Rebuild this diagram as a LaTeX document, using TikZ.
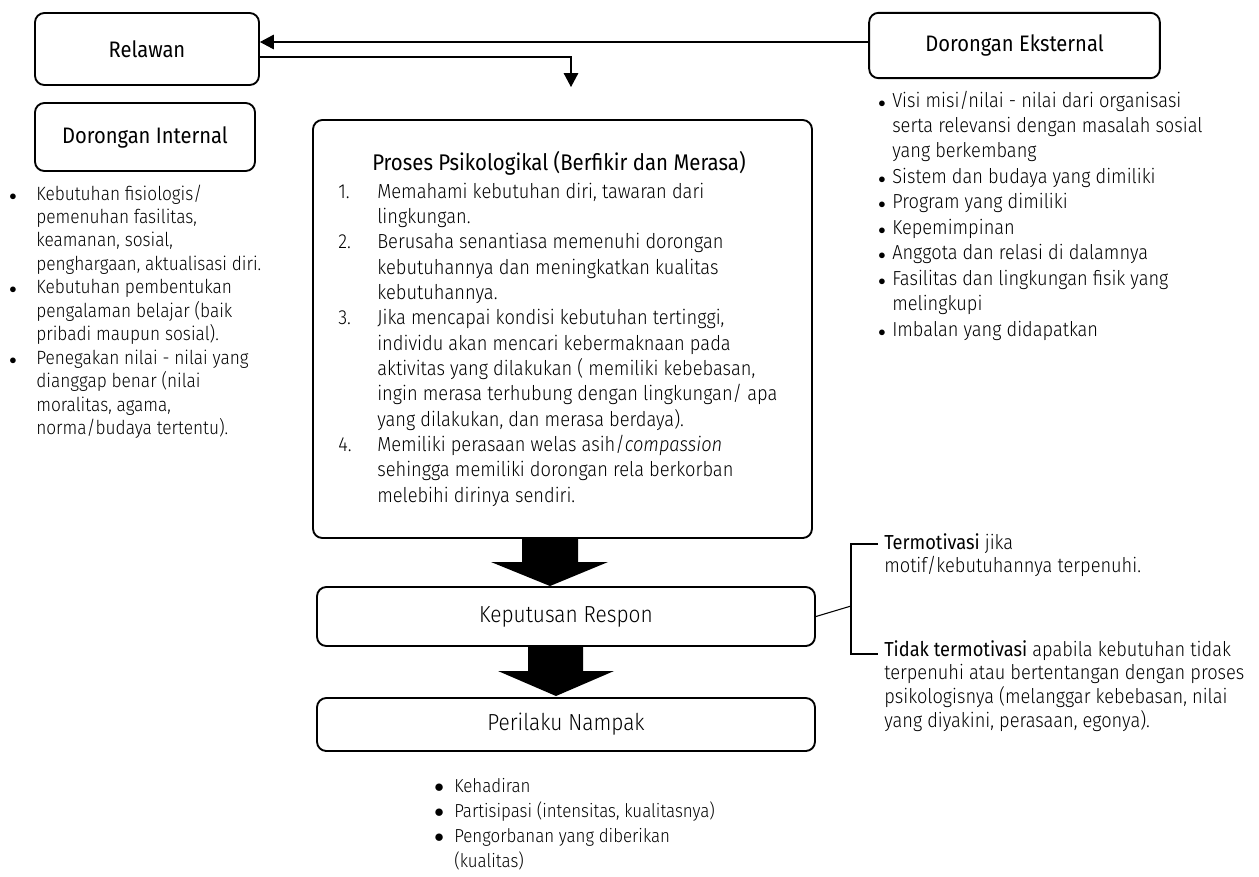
\documentclass[tikz,border=0pt]{standalone}
\usepackage{fontspec}
\setmainfont{Fira Sans Light}[FakeStretch=0.9,ItalicFont={Fira Sans Light Italic},ItalicFeatures={FakeStretch=0.9},BoldFont={Fira Sans},BoldFeatures={FakeStretch=0.9}]
\newfontfamily\regfont{Fira Sans}[FakeStretch=0.9]
\usetikzlibrary{arrows.meta,calc}
\newcommand{\hdrfont}{\regfont\fontsize{16.8}{18}\selectfont}
\newcommand{\ttlfont}{\regfont\fontsize{17}{19}\selectfont}
\newcommand{\bigfont}{\fontsize{17.4}{19}\selectfont}
\newcommand{\bodyfont}[2]{\fontsize{#1}{#2}\selectfont}
\newcommand{\sbul}{{\fontsize{11}{11}\selectfont$\bullet$}}
\newcommand{\lbul}{{\fontsize{14}{14}\selectfont$\bullet$}}
\tikzset{
  rbox/.style={draw, line width=1.4pt, rounded corners=7pt, inner sep=0pt},
  conn/.style={line width=0.8pt},
  tip/.style={-{Triangle[length=10.5pt,width=11pt]}},
  blk/.style={fill=black, draw=none},
  txt/.style={inner sep=0pt, anchor=base west, align=left},
}
\begin{document}
\begin{tikzpicture}[x=0.75pt,y=-0.75pt]
\useasboundingbox (0,0) rectangle (1259,876);
% boxes
\node[rbox, minimum width=168pt, minimum height=54pt, font=\hdrfont] (relawan) at (147,49) {Relawan};
\node[rbox, minimum width=165pt, minimum height=51pt, font=\hdrfont] (internal) at (145,137) {Dorongan Internal};
\node[rbox, minimum width=218pt, minimum height=49pt, font=\hdrfont] (eksternal) at (1014.5,45.5) {Dorongan Eksternal};
\node[rbox, minimum width=374.25pt, minimum height=313.5pt] (proses) at (562.5,329) {};
\node[rbox, minimum width=373.5pt, minimum height=44.25pt, font=\bigfont] (keputusan) at (566,616.5) {Keputusan Respon};
\node[rbox, minimum width=373.5pt, minimum height=39.75pt, font=\bigfont] (perilaku) at (566,724.5) {Perilaku Nampak};
% connectors
\coordinate (yA) at (0,42);
\coordinate (yB) at (0,57);
\coordinate (tipA) at (571,87);
\draw[conn,tip] (eksternal.west |- yA) -- (relawan.east |- yA);
\draw[conn,tip] (relawan.east |- yB) -| (tipA);
% block arrows
\fill[blk] (522,538) -- (578,538) -- (578,562) -- (608,562) -- (550,586) -- (491,562) -- (522,562) -- cycle;
\fill[blk] (528,646) -- (583,646) -- (583,671) -- (614,671) -- (556,696) -- (498,671) -- (528,671) -- cycle;
% bracket
\coordinate (brk) at (851,606);
\coordinate (brkT) at (878,544);
\coordinate (brkB) at (878,654);
\draw[conn] (keputusan.east) -- (brk);
\draw[conn] (brkT) -- (brk |- brkT) -- (brk |- brkB) -- (brkB);
% left list
\node[txt] (llist) at (9,200) {\bodyfont{14.4}{17.6}\begin{tabular}[t]{@{}p{20.25pt}@{}l@{}}
\sbul & Kebutuhan fisiologis/\\
 & pemenuhan fasilitas,\\
 & keamanan, sosial,\\
 & penghargaan, aktualisasi diri.\\
\sbul & Kebutuhan pembentukan\\
 & pengalaman belajar (baik\\
 & pribadi maupun sosial).\\
\sbul & Penegakan nilai - nilai yang\\
 & dianggap benar (nilai\\
 & moralitas, agama,\\
 & norma/budaya tertentu).
\end{tabular}};
% right list
\node[txt] (rlist) at (878,107) {\bodyfont{15.2}{19.1}\begin{tabular}[t]{@{}p{10.5pt}@{}l@{}}
\sbul & Visi misi/nilai - nilai dari organisasi\\
 & serta relevansi dengan masalah sosial\\
 & yang berkembang\\
\sbul & Sistem dan budaya yang dimiliki\\
\sbul & Program yang dimiliki\\
\sbul & Kepemimpinan\\
\sbul & Anggota dan relasi di dalamnya\\
\sbul & Fasilitas dan lingkungan fisik yang\\
 & melingkupi\\
\sbul & Imbalan yang didapatkan
\end{tabular}};
% proses content
\node[txt, font=\ttlfont] (ptitle) at (372,170) {Proses Psikologikal (Berfikir dan Merasa)};
\node[txt] (plist) at (338,198) {\bodyfont{15.25}{19}\begin{tabular}[t]{@{}p{29.25pt}@{}l@{}}
1. & Memahami kebutuhan diri, tawaran dari\\
 & lingkungan.\\
2. & Berusaha senantiasa memenuhi dorongan\\
 & kebutuhannya dan meningkatkan kualitas\\
 & kebutuhannya.\\
3. & Jika mencapai kondisi kebutuhan tertinggi,\\
 & individu akan mencari kebermaknaan pada\\
 & aktivitas yang dilakukan ( memiliki kebebasan,\\
 & ingin merasa terhubung dengan lingkungan/ apa\\
 & yang dilakukan, dan merasa berdaya).\\
4. & Memiliki perasaan welas asih/\textit{compassion}\\
 & sehingga memiliki dorongan rela berkorban\\
 & melebihi dirinya sendiri.
\end{tabular}};
% bottom list
\node[txt] (blist) at (434,792) {\bodyfont{14.1}{18.9}\begin{tabular}[t]{@{}p{15pt}@{}l@{}}
\lbul & Kehadiran\\
\lbul & Partisipasi (intensitas, kualitasnya)\\
\lbul & Pengorbanan yang diberikan\\
 & (kualitas)
\end{tabular}};
% bracket texts
\node[txt] (tmot) at (884,549) {\bodyfont{15.2}{17.25}\begin{tabular}[t]{@{}l@{}}
\textbf{Termotivasi} jika\\
motif/kebutuhannya terpenuhi.
\end{tabular}};
\node[txt] (tidak) at (884,656) {\bodyfont{15.2}{17.4}\begin{tabular}[t]{@{}l@{}}
\textbf{Tidak termotivasi} apabila kebutuhan tidak\\
terpenuhi atau bertentangan dengan proses\\
psikologisnya (melanggar kebebasan, nilai\\
yang diyakini, perasaan, egonya).
\end{tabular}};
\end{tikzpicture}
\end{document}
